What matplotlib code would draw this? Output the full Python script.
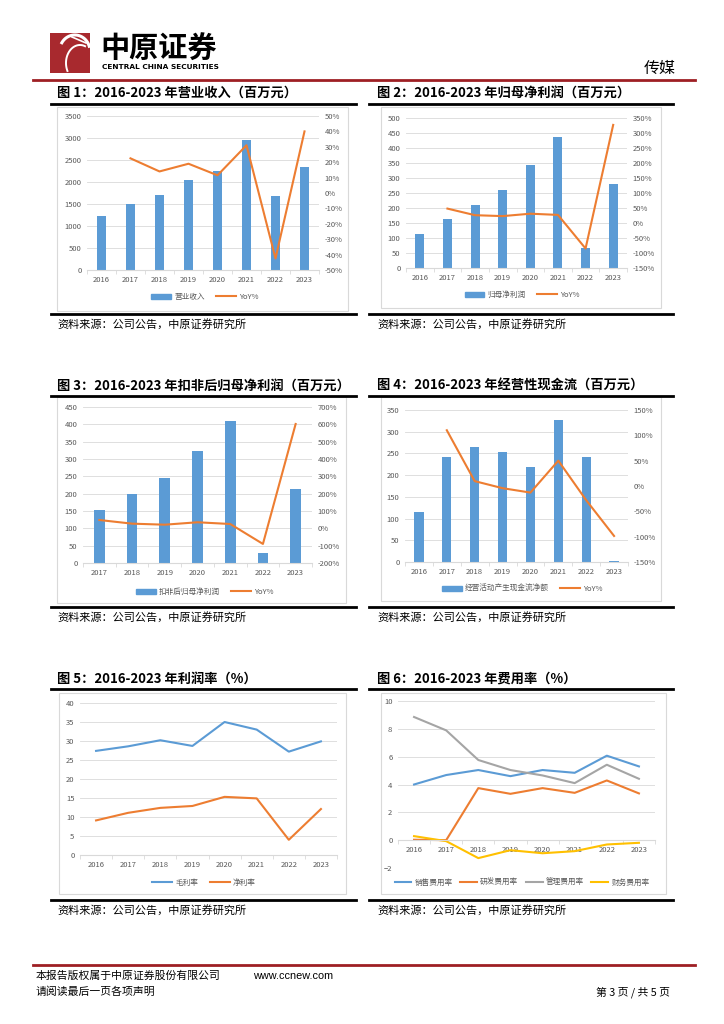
import matplotlib
matplotlib.use('Agg')
import matplotlib.pyplot as plt
from matplotlib.lines import Line2D
from matplotlib.patches import Rectangle, Patch
from matplotlib.ticker import FuncFormatter
import numpy as np

plt.rcParams['font.family'] = ['Noto Sans CJK SC', 'DejaVu Sans']

# ---- data ----
years = ['2016', '2017', '2018', '2019', '2020', '2021', '2022', '2023']
years_17 = years[1:]

revenue = [1225, 1504, 1708, 2041, 2253, 2956, 1686, 2351]
revenue_yoy = [np.nan, 22.5, 14.0, 19.0, 11.5, 31.0, -42.5, 40.0]

net_profit = [113, 165, 210, 260, 344, 437, 66, 281]
net_profit_yoy = [np.nan, 48, 26, 23, 31, 27, -85, 327]

deducted_profit = [154, 200, 246, 324, 410, 30, 213]
deducted_yoy = [48, 27, 21, 35, 25, -90, 602]

cash_flow = [115, 242, 264, 253, 218, 328, 241, 3]
cash_flow_yoy = [np.nan, 110, 9.6, -4.3, -13, 50, -28, -98.6]

gross_margin = [27.4, 28.6, 30.2, 28.7, 35.0, 33.0, 27.2, 29.9]
net_margin = [9.1, 11.1, 12.4, 12.9, 15.3, 14.9, 4.0, 12.1]

selling_rate = [4.0, 4.68, 5.04, 4.6, 5.04, 4.84, 6.07, 5.3]
rd_rate = [0.03, 0.0, 3.74, 3.33, 3.74, 3.4, 4.29, 3.36]
admin_rate = [8.85, 7.89, 5.76, 5.04, 4.65, 4.1, 5.42, 4.41]
finance_rate = [0.29, -0.07, -1.29, -0.72, -0.94, -0.79, -0.31, -0.19]

BLUE = '#5B9BD5'
ORANGE = '#ED7D31'
GRAY = '#A5A5A5'
YELLOW = '#FFC000'
GRID = '#D9D9D9'
TXT = '#595959'
RED = '#9E1F24'

W, H = 724, 1024
fig = plt.figure(figsize=(W / 100, H / 100), dpi=100)


def box(x0, y0, x1, y1):
    return [x0 / W, 1 - y1 / H, (x1 - x0) / W, (y1 - y0) / H]


def hline(x0, x1, y, color, lw):
    fig.add_artist(Line2D([x0 / W, x1 / W], [1 - y / H, 1 - y / H], color=color, lw=lw))


def text(x, y, s, **kw):
    fig.text(x / W, 1 - y / H, s, **kw)


def frame(x0, y0, x1, y1):
    fig.add_artist(Rectangle((x0 / W, 1 - y1 / H), (x1 - x0) / W, (y1 - y0) / H,
                             fill=False, edgecolor=GRID, lw=0.8))


def style_axis(ax, n):
    for s in ['top', 'right', 'left']:
        ax.spines[s].set_visible(False)
    ax.spines['bottom'].set_color(GRID)
    ax.grid(axis='y', color=GRID, lw=0.6)
    ax.set_axisbelow(True)
    ax.tick_params(axis='both', which='major', length=0, labelsize=5.5, colors=TXT, pad=4)
    ax.set_xticks(np.arange(-0.5, n, 1.0), minor=True)
    ax.tick_params(axis='x', which='minor', length=3, color=GRID)
    ax.set_xlim(-0.5, n - 0.5)


def legend(handles, labels, cx, cy, hl=2.6, cs=1.5):
    fig.legend(handles, labels, loc='center', bbox_to_anchor=(cx / W, 1 - cy / H),
               ncol=len(labels), frameon=False, fontsize=5.5, labelcolor=TXT,
               handlelength=hl, handleheight=0.6, columnspacing=cs, handletextpad=0.4)


def bar_line(pbox, cats, bars, yoy, lmax, lstep, rmin, rmax, rstep, bar_label, leg_xy):
    ax = fig.add_axes(box(*pbox))
    x = np.arange(len(cats))
    ax.bar(x, bars, width=0.33, color=BLUE, zorder=2)
    ax.set_ylim(0, lmax)
    ax.set_yticks(np.arange(0, lmax + 1, lstep))
    ax.set_xticks(x)
    ax.set_xticklabels(cats)
    style_axis(ax, len(cats))
    ax2 = ax.twinx()
    ax2.plot(x, yoy, color=ORANGE, lw=1.5, zorder=3)
    ax2.set_ylim(rmin, rmax)
    ax2.set_yticks(np.arange(rmin, rmax + 1, rstep))
    ax2.yaxis.set_major_formatter(FuncFormatter(lambda v, p: f'{v:.0f}%'))
    for s in ax2.spines.values():
        s.set_visible(False)
    ax2.tick_params(length=0, labelsize=5.5, colors=TXT, pad=4)
    legend([Patch(color=BLUE), Line2D([], [], color=ORANGE, lw=1.5)],
           [bar_label, 'YoY%'], *leg_xy)


# ---- header ----
logo = fig.add_axes(box(50, 33, 90, 73))
logo.set_facecolor('#A8292E')
logo.set_xlim(0, 1)
logo.set_ylim(0, 1)
logo.set_xticks([])
logo.set_yticks([])
for s in logo.spines.values():
    s.set_visible(False)
t = np.linspace(0.3, 2.6, 60)
logo.plot(0.62 + 0.42 * np.cos(t) * 0.9, 0.55 + 0.5 * np.sin(t) * 0.8, color='white', lw=2.2)
t2 = np.linspace(1.2, 3.6, 60)
logo.plot(0.75 + 0.35 * np.cos(t2), 0.25 + 0.45 * np.sin(t2), color='white', lw=1.4)
logo.plot([0.55, 0.9], [0.9, 0.75], color='white', lw=1.2)

text(100, 49, '中原证券', fontsize=21, fontweight='bold', va='center', ha='left')
text(102, 67, 'CENTRAL CHINA SECURITIES', fontsize=5.3, fontweight='bold', va='center',
     ha='left', family='DejaVu Sans')
text(676, 68, '传媒', fontsize=11.5, va='center', ha='right')
hline(33, 695, 80, RED, 2.0)

# ---- section titles, rules and sources ----
titles = [
    (57, 93, '图 1：2016-2023 年营业收入（百万元）'),
    (377, 93, '图 2：2016-2023 年归母净利润（百万元）'),
    (57, 386, '图 3：2016-2023 年扣非后归母净利润（百万元）'),
    (377, 386, '图 4：2016-2023 年经营性现金流（百万元）'),
    (57, 679, '图 5：2016-2023 年利润率（%）'),
    (377, 679, '图 6：2016-2023 年费用率（%）'),
]
for tx, ty, s in titles:
    text(tx, ty, s, fontsize=9.5, fontweight='bold', va='center', ha='left')

for y in [104, 396, 689, 314, 607, 900]:
    hline(51, 356, y, 'black', 2.0)
    hline(369, 673, y, 'black', 2.0)
for y in [324, 617, 910]:
    text(57, y, '资料来源：公司公告，中原证券研究所', fontsize=8, va='center', ha='left')
    text(377, y, '资料来源：公司公告，中原证券研究所', fontsize=8, va='center', ha='left')

# ---- chart frames ----
frame(57, 107, 348, 311)
frame(381, 107, 661, 308)
frame(57, 397, 346, 603)
frame(381, 397, 661, 601)
frame(59, 693, 346, 894)
frame(381, 693, 666, 894)

# ---- charts 1-4 ----
bar_line((87, 116, 319, 270), years, revenue, revenue_yoy, 3500, 500, -50, 50, 10,
         '营业收入', (205, 297))
bar_line((406, 118, 627, 268), years, net_profit, net_profit_yoy, 500, 50, -150, 350, 50,
         '归母净利润', (522, 295))
bar_line((83, 407, 312, 563), years_17, deducted_profit, deducted_yoy, 450, 50, -200, 700, 100,
         '扣非后归母净利润', (205, 592))
bar_line((405, 410, 628, 562), years, cash_flow, cash_flow_yoy, 350, 50, -150, 150, 50,
         '经营活动产生现金流净额', (522, 589))

# ---- chart 5 ----
ax5 = fig.add_axes(box(80, 703, 337, 855))
x = np.arange(len(years))
ax5.plot(x, gross_margin, color=BLUE, lw=1.5)
ax5.plot(x, net_margin, color=ORANGE, lw=1.5)
ax5.set_ylim(0, 40)
ax5.set_yticks(np.arange(0, 41, 5))
ax5.set_xticks(x)
ax5.set_xticklabels(years)
style_axis(ax5, len(years))
legend([Line2D([], [], color=BLUE, lw=1.5), Line2D([], [], color=ORANGE, lw=1.5)],
       ['毛利率', '净利率'], 204, 883)

# ---- chart 6 ----
ax6 = fig.add_axes(box(398, 701, 655, 868))
ax6.plot(x, selling_rate, color=BLUE, lw=1.5)
ax6.plot(x, rd_rate, color=ORANGE, lw=1.5)
ax6.plot(x, admin_rate, color=GRAY, lw=1.5)
ax6.plot(x, finance_rate, color=YELLOW, lw=1.5)
ax6.set_ylim(-2, 10)
ax6.set_yticks(np.arange(-2, 11, 2))
ax6.set_xticks(x)
ax6.set_xticklabels(years)
style_axis(ax6, len(years))
ax6.spines['bottom'].set_position(('data', 0))
legend([Line2D([], [], color=c, lw=1.5) for c in [BLUE, ORANGE, GRAY, YELLOW]],
       ['销售费用率', '研发费用率', '管理费用率', '财务费用率'], 522, 883, hl=2.2, cs=1.0)

# ---- footer ----
hline(33, 695, 965, RED, 2.0)
text(36, 976, '本报告版权属于中原证券股份有限公司', fontsize=7.8, va='center', ha='left')
text(253, 976, 'www.ccnew.com', fontsize=7.8, va='center', ha='left', family='Liberation Sans')
text(36, 992, '请阅读最后一页各项声明', fontsize=7.8, va='center', ha='left')
text(670, 992, '第 3 页 / 共 5 页', fontsize=7.8, va='center', ha='right')

fig.savefig('out.png', dpi=100)
